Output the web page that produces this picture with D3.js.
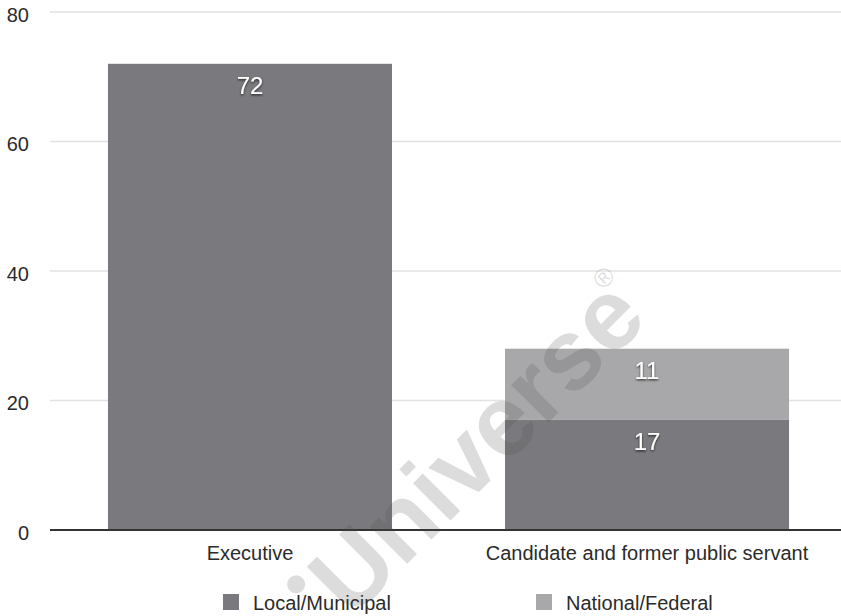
<!DOCTYPE html>
<html>
<head>
<meta charset="utf-8">
<script src="https://cdn.jsdelivr.net/npm/d3@7"></script>
<style>
  html, body { margin: 0; padding: 0; background: #fff; }
  svg { display: block; font-family: "Liberation Sans", Arial, Helvetica, sans-serif; }
</style>
</head>
<body>
<svg id="chart" width="841" height="616"></svg>
<script>
// Categories and stacked series
const categories = ["Executive", "Candidate and former public servant"];
const seriesNames = ["Local/Municipal", "National/Federal"];
const localMunicipal = [72, 17];
const nationalFederal = [0, 11];
const yTicks = [0, 20, 40, 60, 80];
const seriesColors = ["#7a7a7e", "#a8a8aa"];

const width = 841, height = 616;
const svg = d3.select("#chart");

const x = d3.scaleBand()
  .domain(categories)
  .range([50, 847])
  .paddingInner(0.2846)
  .paddingOuter(0.146);

const y = d3.scaleLinear().domain([0, 80]).range([530, 12]);

// Drop shadow for value labels
const defs = svg.append("defs");
const f = defs.append("filter").attr("id", "lblShadow")
  .attr("x", "-30%").attr("y", "-30%").attr("width", "160%").attr("height", "160%");
f.append("feDropShadow").attr("dx", 0).attr("dy", 1.2).attr("stdDeviation", 1)
  .attr("flood-color", "#000").attr("flood-opacity", 0.75);

// Horizontal gridlines
svg.append("g").selectAll("line")
  .data(yTicks.filter(d => d > 0))
  .join("line")
  .attr("x1", 50).attr("x2", width)
  .attr("y1", d => y(d)).attr("y2", d => y(d))
  .attr("stroke", "#e2e2e2").attr("stroke-width", 1.5);

// Y tick labels
svg.append("g").selectAll("text")
  .data(yTicks)
  .join("text")
  .attr("x", 29)
  .attr("y", d => y(d) + 9.5)
  .attr("text-anchor", "end")
  .attr("font-size", 20)
  .attr("fill", "#2b2b2b")
  .text(d => d);

// Stacked data
const rows = categories.map((c, i) => ({ cat: c, "Local/Municipal": localMunicipal[i], "National/Federal": nationalFederal[i] }));
const stack = d3.stack().keys(seriesNames)(rows);

const layers = svg.append("g").selectAll("g")
  .data(stack)
  .join("g")
  .attr("fill", (d, i) => seriesColors[i]);

layers.selectAll("rect")
  .data(d => d.filter(s => s[1] - s[0] > 0))
  .join("rect")
  .attr("x", d => x(d.data.cat))
  .attr("width", x.bandwidth())
  .attr("y", d => y(d[1]))
  .attr("height", d => y(d[0]) - y(d[1]));

// Value labels near the top of each segment
layers.selectAll("text")
  .data(d => d.filter(s => s[1] - s[0] > 0))
  .join("text")
  .attr("x", d => x(d.data.cat) + x.bandwidth() / 2)
  .attr("y", d => y(d[1]) + 30)
  .attr("text-anchor", "middle")
  .attr("font-size", 24)
  .attr("fill", "#fff")
  .attr("filter", "url(#lblShadow)")
  .text(d => d[1] - d[0]);

// Baseline axis
svg.append("line")
  .attr("x1", 50).attr("x2", width)
  .attr("y1", y(0)).attr("y2", y(0))
  .attr("stroke", "#333").attr("stroke-width", 2);

// Category labels
svg.append("g").selectAll("text")
  .data(categories)
  .join("text")
  .attr("x", d => x(d) + x.bandwidth() / 2)
  .attr("y", 560)
  .attr("text-anchor", "middle")
  .attr("font-size", 20)
  .attr("fill", "#2b2b2b")
  .text(d => d);

// Legend
const legendX = [223, 536];
const legend = svg.append("g").selectAll("g")
  .data(seriesNames)
  .join("g")
  .attr("transform", (d, i) => `translate(${legendX[i]},594)`);
legend.append("rect")
  .attr("width", 16).attr("height", 16)
  .attr("fill", (d, i) => seriesColors[i]);
legend.append("text")
  .attr("x", 30).attr("y", 16)
  .attr("font-size", 20)
  .attr("fill", "#2b2b2b")
  .text(d => d);

// Publisher watermark, rotated across the plot
const wmFill = "rgba(80,80,80,0.2)";
const wmSize = 100, wmAngle = -45;
const wmEnd = [650, 321];
const wm = svg.append("g").attr("pointer-events", "none");
const word = wm.append("text")
  .attr("transform", `translate(${wmEnd[0]},${wmEnd[1]}) rotate(${wmAngle})`)
  .attr("text-anchor", "end")
  .attr("font-size", wmSize)
  .attr("font-weight", "bold")
  .attr("fill", wmFill)
  .text("Universe");
// dot of the preceding "i", just before the word starts
const a = wmAngle * Math.PI / 180;
const along = [Math.cos(a), Math.sin(a)];
const up = [Math.sin(a), -Math.cos(a)];
const len = word.node().getComputedTextLength();
const iCenter = 0.139 * wmSize, dotUp = 0.64 * wmSize;
wm.append("circle")
  .attr("cx", wmEnd[0] - (len + iCenter) * along[0] + dotUp * up[0])
  .attr("cy", wmEnd[1] - (len + iCenter) * along[1] + dotUp * up[1])
  .attr("r", 9)
  .attr("fill", wmFill);
wm.append("text")
  .attr("transform", "translate(610,284) rotate(-45)")
  .attr("text-anchor", "middle")
  .attr("font-size", 26)
  .attr("fill", wmFill)
  .text("®");
</script>
</body>
</html>
